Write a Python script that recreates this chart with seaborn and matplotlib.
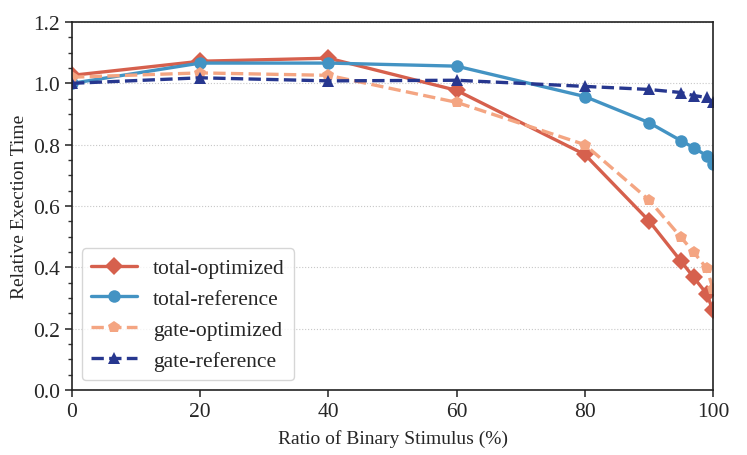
import numpy as np
import pandas as pd
import seaborn as sns
import matplotlib.pyplot as plt
from matplotlib.ticker import MultipleLocator

# ratios of binary stimulus (%)
ratio = [0, 20, 40, 60, 80, 90, 95, 97, 99, 100]

total_opt = [1.026, 1.072, 1.082, 0.977, 0.768, 0.552, 0.420, 0.367, 0.314, 0.260]
total_ref = [1.000, 1.066, 1.066, 1.056, 0.957, 0.872, 0.813, 0.790, 0.764, 0.738]
gate_opt = [1.020, 1.034, 1.026, 0.938, 0.800, 0.620, 0.498, 0.449, 0.397, 0.330]
gate_ref = [1.000, 1.018, 1.008, 1.010, 0.990, 0.980, 0.970, 0.960, 0.954, 0.938]

names = ['total-optimized', 'total-reference', 'gate-optimized', 'gate-reference']
colors = ['#d6604d', '#4393c3', '#f4a582', '#27378f']
markers = ['D', 'o', 'p', '^']
dashed = [False, False, True, True]

rows = []
for name, vals in zip(names, [total_opt, total_ref, gate_opt, gate_ref]):
    for r, v in zip(ratio, vals):
        rows.append({'ratio': r, 'time': v, 'series': name})
df = pd.DataFrame(rows)

sns.set_style('ticks')
plt.rcParams['font.family'] = ['Liberation Serif', 'DejaVu Serif']

fig, ax = plt.subplots(figsize=(7.47, 4.56), dpi=100)
fig.subplots_adjust(left=0.0964, right=0.9545, top=0.9496, bottom=0.1425)
for name, c, m, d in zip(names, colors, markers, dashed):
    sub = df[df['series'] == name]
    sns.lineplot(x='ratio', y='time', data=sub, ax=ax, color=c, marker=m,
                 markersize=9, markeredgewidth=0, linewidth=2.4,
                 linestyle='--' if d else '-', label=name)

ax.set_xlim(0, 100)
ax.set_ylim(0, 1.2)
ax.set_xticks([0, 20, 40, 60, 80, 100])
ax.yaxis.set_major_locator(MultipleLocator(0.2))
ax.yaxis.set_minor_locator(MultipleLocator(0.05))
ax.yaxis.set_major_formatter(plt.FormatStrFormatter('%.1f'))
ax.grid(axis='y', which='major', linestyle=':', color='#c8c8c8', linewidth=0.8)
ax.tick_params(axis='both', which='major', labelsize=15.5, length=5, width=1.2,
               color='#333333')
ax.tick_params(axis='y', which='minor', length=3, width=1, color='#333333')
for s in ax.spines.values():
    s.set_linewidth(1.2)
    s.set_color('#222222')
ax.set_xlabel('Ratio of Binary Stimulus (%)', fontsize=14, labelpad=6)
ax.set_ylabel('Relative Exection Time', fontsize=14)

leg = ax.legend(loc='lower left', fontsize=15.5, frameon=True, fancybox=True,
                handlelength=2.1, borderpad=0.45, labelspacing=0.5,
                handletextpad=0.75, borderaxespad=0.45)
leg.get_frame().set_edgecolor('#cccccc')

plt.savefig('out.png', dpi=100)
